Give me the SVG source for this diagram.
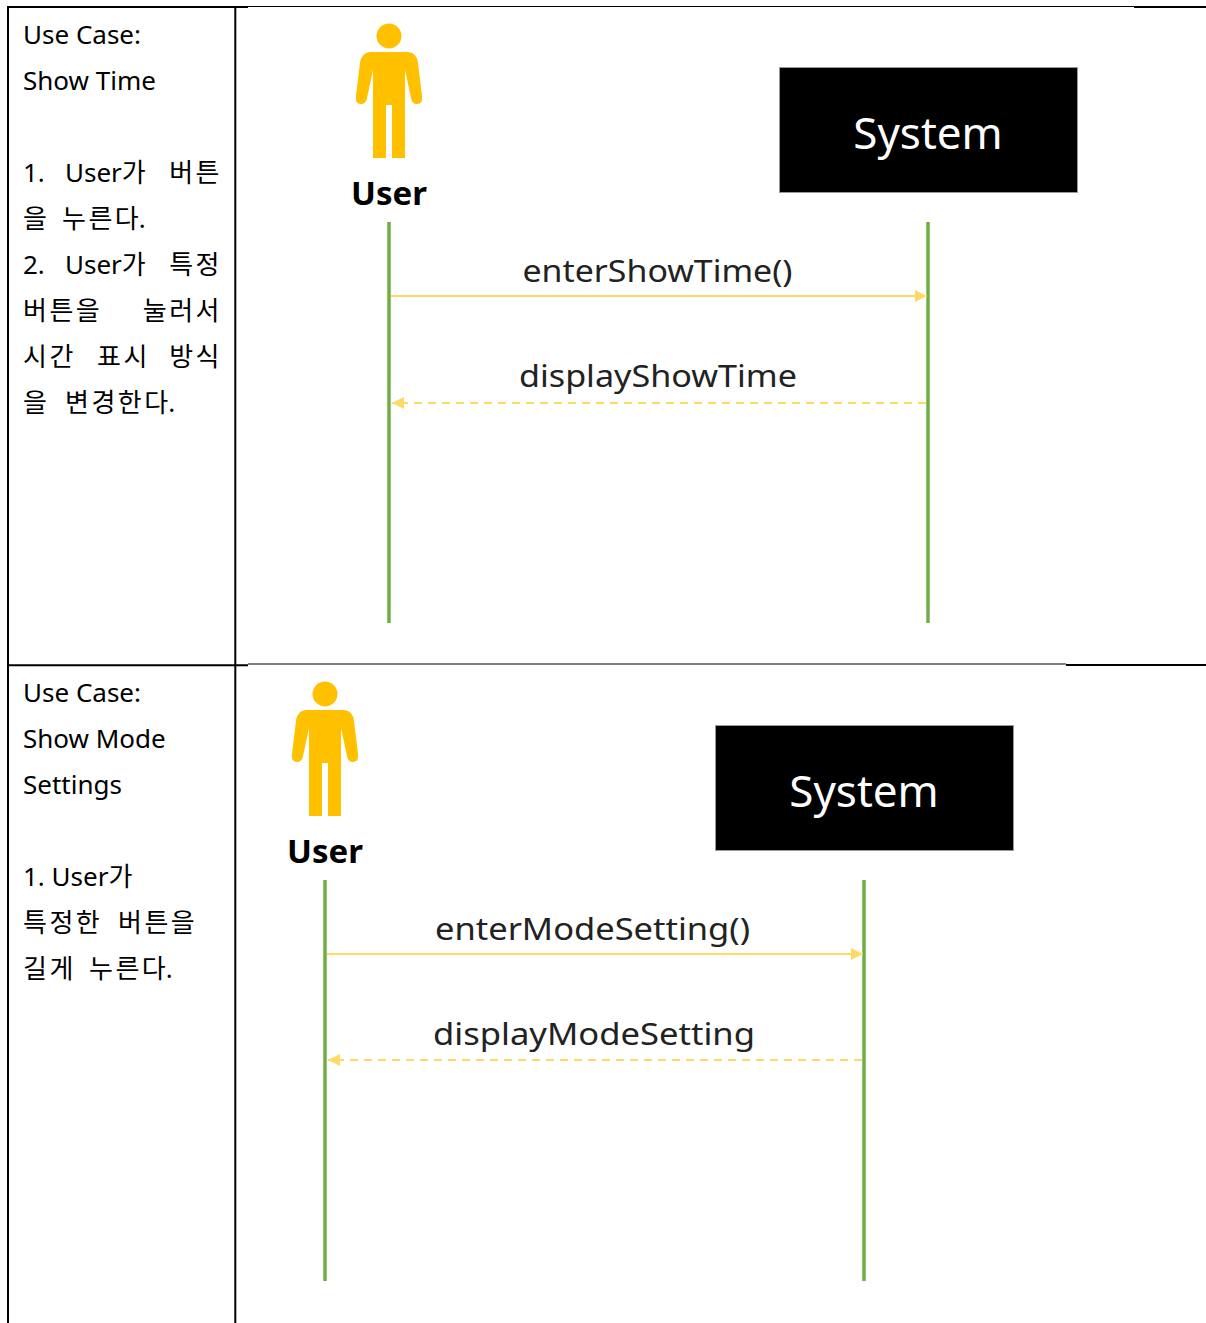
<svg xmlns="http://www.w3.org/2000/svg" width="1206" height="1323" viewBox="0 0 1206 1323">
<style>
.tbl{stroke:#000;fill:none}
.desc{font-family:"Noto Sans","Noto Sans CJK KR",sans-serif;font-size:26px;fill:#000}
.k{letter-spacing:2.5px}
.actor{fill:#FFC000}
.ulabel{font-family:"Noto Sans","Noto Sans CJK KR",sans-serif;font-size:33px;font-weight:bold;fill:#000;text-anchor:middle}
.sysbox{fill:#000;stroke:#9a9a9a;stroke-width:1}
.syslabel{font-family:"Noto Sans",sans-serif;font-size:44px;fill:#fff;text-anchor:middle}
.life{stroke:#70AD47;stroke-width:3.5}
.msg{stroke:#FFD966;stroke-width:2;fill:none}
.ret{stroke:#FFD966;stroke-width:2;fill:none;stroke-dasharray:8 6}
.mlabel{font-family:"Noto Sans",sans-serif;font-size:30px;fill:#222;text-anchor:middle}
</style>
<defs>
<marker id="ah" viewBox="0 0 10 10" refX="10" refY="5" markerWidth="6" markerHeight="6" orient="auto" markerUnits="strokeWidth">
<path d="M0,0 L10,5 L0,10 Z" fill="#FFD966"/>
</marker>
<path id="body" d="M370,52 Q361,53 360,63 L356,96 Q355,104 361,104 Q366,104 367,98 L373,70 L373,158 L386,158 L386,105 L392,105 L392,158 L405,158 L405,70 L411,98 Q412,104 417,104 Q423,104 422,96 L418,63 Q417,53 408,52 Z"/>
</defs>
<rect width="1206" height="1323" fill="#fff"/>

<g id="table">
<line class="tbl" x1="8" y1="6" x2="8" y2="1323" stroke-width="2"/>
<line class="tbl" x1="235.3" y1="6" x2="235.3" y2="1323" stroke-width="2"/>
<line class="tbl" x1="7" y1="7" x2="248" y2="7" stroke-width="2"/>
<line class="tbl" x1="248" y1="6.5" x2="1134" y2="6.5" stroke-width="1"/>
<line class="tbl" x1="1134" y1="7" x2="1206" y2="7" stroke-width="2"/>
<line class="tbl" x1="7" y1="665.3" x2="248" y2="665.3" stroke-width="2"/>
<line class="tbl" x1="248" y1="664" x2="1066" y2="664" stroke-width="1"/>
<line class="tbl" x1="1066" y1="665" x2="1206" y2="665" stroke-width="2"/>
</g>

<g id="desc1">
<text class="desc" x="23" y="44">Use Case:</text>
<text class="desc" x="23" y="90">Show Time</text>
<text class="desc" y="182"><tspan x="23">1.</tspan><tspan x="65">User가</tspan><tspan class="k" x="222" text-anchor="end">버튼</tspan></text>
<text class="desc" y="228"><tspan class="k" x="23">을</tspan><tspan class="k" x="62">누른다</tspan><tspan dx="-2.5">.</tspan></text>
<text class="desc" y="274"><tspan x="23">2.</tspan><tspan x="65">User가</tspan><tspan class="k" x="222" text-anchor="end">특정</tspan></text>
<text class="desc" y="320"><tspan class="k" x="23">버튼을</tspan><tspan class="k" x="222" text-anchor="end">눌러서</tspan></text>
<text class="desc" y="366"><tspan class="k" x="23">시간</tspan><tspan class="k" x="97">표시</tspan><tspan class="k" x="222" text-anchor="end">방식</tspan></text>
<text class="desc" y="412"><tspan class="k" x="23">을</tspan><tspan class="k" x="65">변경한다</tspan><tspan dx="-2.5">.</tspan></text>
</g>

<g id="desc2">
<text class="desc" x="23" y="702">Use Case:</text>
<text class="desc" x="23" y="748">Show Mode</text>
<text class="desc" x="23" y="794">Settings</text>
<text class="desc" x="23" y="886">1. User가</text>
<text class="desc" y="932"><tspan class="k" x="23">특정한</tspan><tspan class="k" x="118">버튼을</tspan></text>
<text class="desc" y="978"><tspan class="k" x="23">길게</tspan><tspan class="k" x="89">누른다</tspan><tspan dx="-2.5">.</tspan></text>
</g>

<g id="user1">
<circle class="actor" cx="389" cy="36" r="12.5"/>
<use class="actor" href="#body"/>
<text class="ulabel" x="389" y="205">User</text>
</g>

<g id="system1">
<rect class="sysbox" x="779.5" y="67.5" width="298" height="125"/>
<text class="syslabel" x="928" y="149">System</text>
</g>

<g id="user2">
<circle class="actor" cx="325" cy="694" r="12.5"/>
<use class="actor" href="#body" transform="translate(-64,658)"/>
<text class="ulabel" x="325" y="863">User</text>
</g>

<g id="system2">
<rect class="sysbox" x="715.5" y="725.5" width="298" height="125"/>
<text class="syslabel" x="864" y="807">System</text>
</g>

<g id="connectors">
<line class="life" x1="389" y1="222" x2="389" y2="623"/>
<line class="life" x1="928" y1="222" x2="928" y2="623"/>
<line class="msg" x1="391" y1="296" x2="927" y2="296" marker-end="url(#ah)"/>
<line class="ret" x1="926" y1="403" x2="392" y2="403" marker-end="url(#ah)"/>
<text class="mlabel" x="657.5" y="282" textLength="270" lengthAdjust="spacingAndGlyphs">enterShowTime()</text>
<text class="mlabel" x="658" y="387" textLength="278" lengthAdjust="spacingAndGlyphs">displayShowTime</text>

<line class="life" x1="325" y1="880" x2="325" y2="1281"/>
<line class="life" x1="864" y1="880" x2="864" y2="1281"/>
<line class="msg" x1="327" y1="954" x2="863" y2="954" marker-end="url(#ah)"/>
<line class="ret" x1="862" y1="1060" x2="328" y2="1060" marker-end="url(#ah)"/>
<text class="mlabel" x="592.5" y="940" textLength="315" lengthAdjust="spacingAndGlyphs">enterModeSetting()</text>
<text class="mlabel" x="594" y="1045" textLength="322" lengthAdjust="spacingAndGlyphs">displayModeSetting</text>
</g>
</svg>
